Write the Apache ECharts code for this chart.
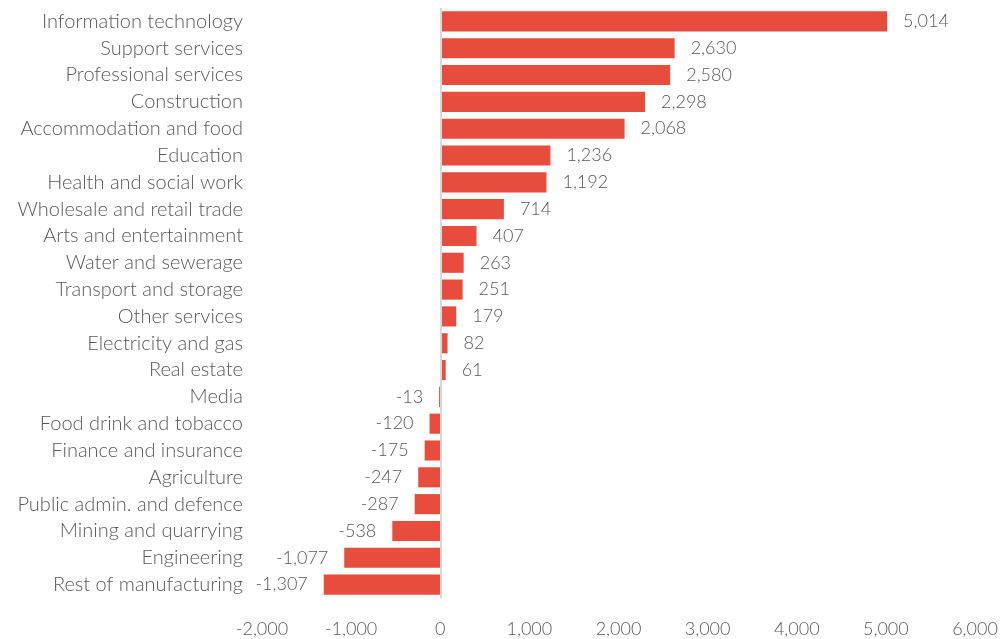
<!DOCTYPE html>
<html>
<head>
<meta charset="utf-8">
<script src="https://cdn.jsdelivr.net/npm/echarts@6/dist/echarts.min.js"></script>
<style>
  html, body { margin: 0; padding: 0; background: #fff; }
  #main { width: 1008px; height: 639px; }
</style>
</head>
<body>
<div id="main"></div>
<script>
// sectors, top to bottom
var sectors = [
  'Information technology', 'Support services', 'Professional services', 'Construction',
  'Accommodation and food', 'Education', 'Health and social work', 'Wholesale and retail trade',
  'Arts and entertainment', 'Water and sewerage', 'Transport and storage', 'Other services',
  'Electricity and gas', 'Real estate', 'Media', 'Food drink and tobacco',
  'Finance and insurance', 'Agriculture', 'Public admin. and defence', 'Mining and quarrying',
  'Engineering', 'Rest of manufacturing'
];
var change = [
  5014, 2630, 2580, 2298, 2068, 1236, 1192, 714, 407, 263, 251, 179,
  82, 61, -13, -120, -175, -247, -287, -538, -1077, -1307
];
var xMin = -2000, xMax = 6000, xStep = 1000;

var textColor = '#595959';
var fontFam = 'Lato, "Open Sans", sans-serif';

function fmt(v) {
  return v.toLocaleString('en-US');
}

var chart = echarts.init(document.getElementById('main'), null, { renderer: 'canvas' });

var option = {
  backgroundColor: '#fff',
  animation: false,
  grid: { left: 262, right: 33, top: 8, bottom: 41, containLabel: false },
  xAxis: {
    type: 'value',
    min: xMin,
    max: xMax,
    interval: xStep,
    axisLine: { show: false },
    axisTick: { show: false },
    splitLine: { show: false },
    axisLabel: {
      color: textColor, fontFamily: fontFam, fontSize: 18, fontWeight: 300,
      margin: 22,
      formatter: function (v) { return fmt(v); }
    }
  },
  yAxis: {
    type: 'category',
    data: sectors,
    inverse: true,
    axisLine: { show: false, onZero: false },
    axisTick: { show: false },
    axisLabel: {
      color: textColor, fontFamily: fontFam, fontSize: 20, fontWeight: 300,
      margin: 19
    }
  },
  series: [{
    type: 'bar',
    barCategoryGap: '25%',
    itemStyle: { color: '#E84C3D' },
    data: change.map(function (v) {
      return {
        value: v,
        label: {
          show: true,
          position: v < 0 ? 'left' : 'right',
          distance: 16,
          color: textColor, fontFamily: fontFam, fontSize: 18, fontWeight: 300,
          formatter: function (p) { return fmt(p.value); }
        }
      };
    }),
    markLine: {
      silent: true,
      symbol: 'none',
      label: { show: false },
      lineStyle: { color: '#d9d9d9', type: 'solid', width: 2 },
      data: [{ xAxis: 0 }]
    }
  }]
};

chart.setOption(option);
</script>
</body>
</html>
